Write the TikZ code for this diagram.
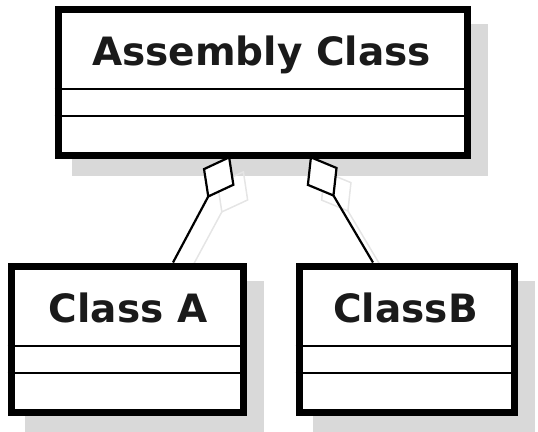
\documentclass[tikz,border=0pt]{standalone}
\usepackage{fontspec}
\setmainfont{DejaVu Sans}
\usetikzlibrary{arrows.meta,calc,backgrounds}
\definecolor{shadowc}{HTML}{D9D9D9}
\definecolor{txtc}{HTML}{1A1A1A}
\begin{document}
\begin{tikzpicture}[x=1pt,y=-1pt,
  umlbox/.style={draw=black, fill=white, line width=7pt, minimum height=146pt, inner sep=0pt},
  title/.style={text=txtc, font=\fontsize{39}{47}\selectfont\bfseries, inner sep=0pt, anchor=base},
  sepline/.style={line width=2pt, draw=black},
  shadowbox/.style={fill=shadowc},
  agg/.style={line width=2.2pt, {Diamond[fill=white, length=48pt, width=36pt]}-},
  aggshadow/.style={line width=1.5pt, draw=black!10, {Diamond[open, length=48pt, width=36pt]}-},
  ]
\useasboundingbox (0,0) rectangle (538,431);
% boxes
\node[umlbox, minimum width=409pt] (asm) at (262.5,82.25) {};
\node[umlbox, minimum width=232pt] (ca) at (127,339) {};
\node[umlbox, minimum width=215pt] (cb) at (406.5,339) {};
% connector end coordinates
\coordinate (p1) at (230,0);
\coordinate (q1) at (173,0);
\coordinate (p2) at (310,0);
\coordinate (q2) at (373,0);
% shadows behind
\begin{scope}[on background layer]
  \fill[shadowbox] ($(asm.north west)+(17,18)$) rectangle ($(asm.south east)+(17,17)$);
  \fill[shadowbox] ($(ca.north west)+(17,18)$) rectangle ($(ca.south east)+(17,17)$);
  \fill[shadowbox] ($(cb.north west)+(17,18)$) rectangle ($(cb.south east)+(17,17)$);
  \draw[aggshadow] ($(asm.south -| p1)+(14,12)$) -- ($(ca.north -| q1)+(14,14)$);
  \draw[aggshadow] ($(asm.south -| p2)+(14,12)$) -- ($(cb.north -| q2)+(14,14)$);
\end{scope}
% compartment lines
\draw[sepline] ($(asm.north west)+(0,83.5)$) -- ($(asm.north east)+(0,83.5)$);
\draw[sepline] ($(asm.north west)+(0,110.5)$) -- ($(asm.north east)+(0,110.5)$);
\draw[sepline] ($(ca.north west)+(0,83.5)$) -- ($(ca.north east)+(0,83.5)$);
\draw[sepline] ($(ca.north west)+(0,110)$) -- ($(ca.north east)+(0,110)$);
\draw[sepline] ($(cb.north west)+(0,83.5)$) -- ($(cb.north east)+(0,83.5)$);
\draw[sepline] ($(cb.north west)+(0,110)$) -- ($(cb.north east)+(0,110)$);
% titles
\node[title] (asmt) at (261.5,65) {Assembly Class};
\node[title] (cat) at (128,322) {Class A};
\node[title] (cbt) at (405.5,322) {ClassB};
% connectors
\draw[agg] ($(asm.south -| p1)+(0,-3)$) -- (ca.north -| q1);
\draw[agg] ($(asm.south -| p2)+(0,-3)$) -- (cb.north -| q2);
\end{tikzpicture}
\end{document}
